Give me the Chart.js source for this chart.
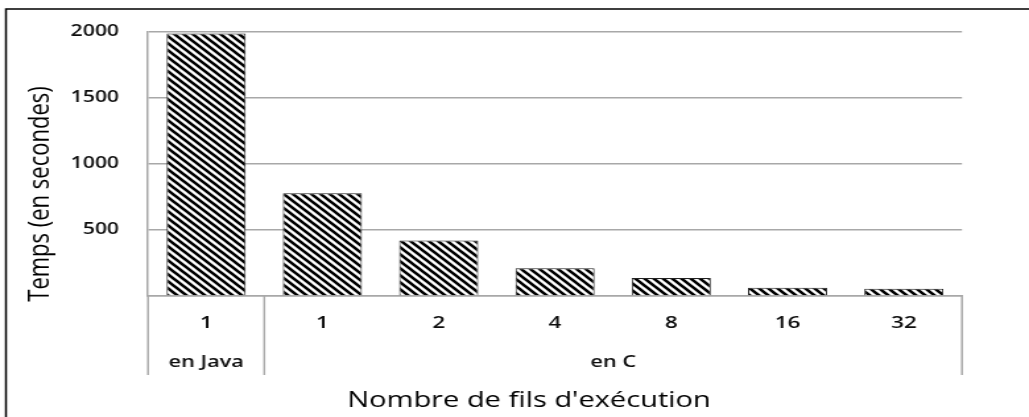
<!DOCTYPE html>
<html>
<head>
<meta charset="utf-8">
<script src="https://cdn.jsdelivr.net/npm/chart.js@4/dist/chart.umd.min.js"></script>
<style>
  html, body { margin: 0; padding: 0; background: #fff; overflow: hidden; }
  #c { display: block; width: 1029px; height: 417px; }
</style>
</head>
<body>
<canvas id="c" width="780" height="417" style="width:1029px;height:417px;"></canvas>
<script>
// ---- data ----
const categories = ['1', '1', '2', '4', '8', '16', '32'];
const times = [1985, 778, 420, 209, 137, 62, 54];
const yTickValues = [0, 500, 1000, 1500, 2000];
const groupLabels = ['en Java', 'en C'];
const groupSizes = [1, 6];
const xTitle = "Nombre de fils d'exécution";
const yTitle = 'Temps (en secondes)';

// ---- styles ----
const FONT = "'Open Sans', 'DejaVu Sans', sans-serif";
const gridColor = '#a8a8a8';
const textColor = '#0d0d0d';

function hatchPattern() {
  const s = 7;
  const p = document.createElement('canvas');
  p.width = s; p.height = s;
  const c = p.getContext('2d');
  c.fillStyle = '#ffffff';
  c.fillRect(0, 0, s, s);
  c.strokeStyle = '#000000';
  c.lineWidth = 2.6;
  c.beginPath();
  c.moveTo(-1, -1); c.lineTo(s + 1, s + 1);
  c.moveTo(-1, s - 1); c.lineTo(1, s + 1);
  c.moveTo(s - 1, -1); c.lineTo(s + 1, 1);
  c.stroke();
  return c.createPattern(p, 'repeat');
}

const decor = {
  id: 'decor',
  beforeDraw(chart) {
    const ctx = chart.ctx;
    ctx.save();
    ctx.fillStyle = '#ffffff';
    ctx.fillRect(0, 0, chart.width, chart.height);
    ctx.restore();
  },
  afterDraw(chart) {
    const { ctx, chartArea, scales: { x } } = chart;
    const tableBottom = 375;
    ctx.save();
    // separators under the axis
    ctx.strokeStyle = gridColor;
    ctx.lineWidth = 1.5;
    let idx = 0;
    const bounds = [-0.5];
    groupSizes.forEach(n => { idx += n; bounds.push(idx - 0.5); });
    bounds.forEach(b => {
      const px = x.getPixelForValue(b);
      ctx.beginPath();
      ctx.moveTo(px, chartArea.bottom);
      ctx.lineTo(px, tableBottom);
      ctx.stroke();
    });
    // group labels
    ctx.fillStyle = textColor;
    ctx.font = "600 16.5px " + FONT;
    ctx.textAlign = 'center';
    ctx.textBaseline = 'middle';
    let start = 0;
    groupLabels.forEach((lab, i) => {
      const end = start + groupSizes[i] - 1;
      const px = x.getPixelForValue((start + end) / 2);
      ctx.fillText(lab, px, 362);
      start = end + 1;
    });
    // x title
    ctx.fillStyle = '#000000';
    ctx.font = "22px " + FONT;
    ctx.textBaseline = 'alphabetic';
    ctx.fillText(xTitle, 401, 407);
    // y title
    ctx.save();
    ctx.font = "22px " + FONT;
    ctx.translate(30.5, 194);
    ctx.rotate(-Math.PI / 2);
    ctx.textBaseline = 'middle';
    ctx.fillText(yTitle, 0, 0);
    ctx.restore();
    // outer frame (top and left)
    ctx.strokeStyle = '#000000';
    ctx.lineWidth = 1.5;
    ctx.beginPath();
    ctx.moveTo(4.5, chart.height + 2);
    ctx.lineTo(4.5, 9);
    ctx.lineTo(chart.width + 2, 9);
    ctx.stroke();
    ctx.restore();
  }
};

new Chart(document.getElementById('c'), {
  type: 'bar',
  data: {
    labels: categories,
    datasets: [{
      data: times,
      backgroundColor: hatchPattern(),
      borderColor: '#222222',
      borderWidth: 1,
      categoryPercentage: 1.0,
      barPercentage: 0.68
    }]
  },
  options: {
    responsive: false,
    devicePixelRatio: 1,
    animation: false,
    layout: { padding: { left: 0, right: 50.8, top: 28.3, bottom: 0 } },
    plugins: { legend: { display: false }, tooltip: { enabled: false }, title: { display: false } },
    scales: {
      x: {
        type: 'category',
        grid: { display: false, drawTicks: false },
        border: { display: true, color: gridColor, width: 1.5 },
        ticks: { color: textColor, font: { family: FONT, size: 17, weight: '600' }, padding: 17, maxRotation: 0, autoSkip: false },
        afterFit(scale) { scale.height = 121; }
      },
      y: {
        min: 0,
        max: 2000,
        afterBuildTicks(scale) { scale.ticks = yTickValues.map(v => ({ value: v })); },
        grid: { color: gridColor, lineWidth: 1.5, drawTicks: false },
        border: { display: true, color: gridColor, width: 1.5 },
        ticks: {
          color: textColor,
          font: { family: FONT, size: 16, weight: '600' },
          padding: 22,
          callback: v => (v === 0 ? '' : String(v))
        },
        afterFit(scale) { scale.width = 112.2; }
      }
    }
  },
  plugins: [decor]
});
</script>
</body>
</html>
